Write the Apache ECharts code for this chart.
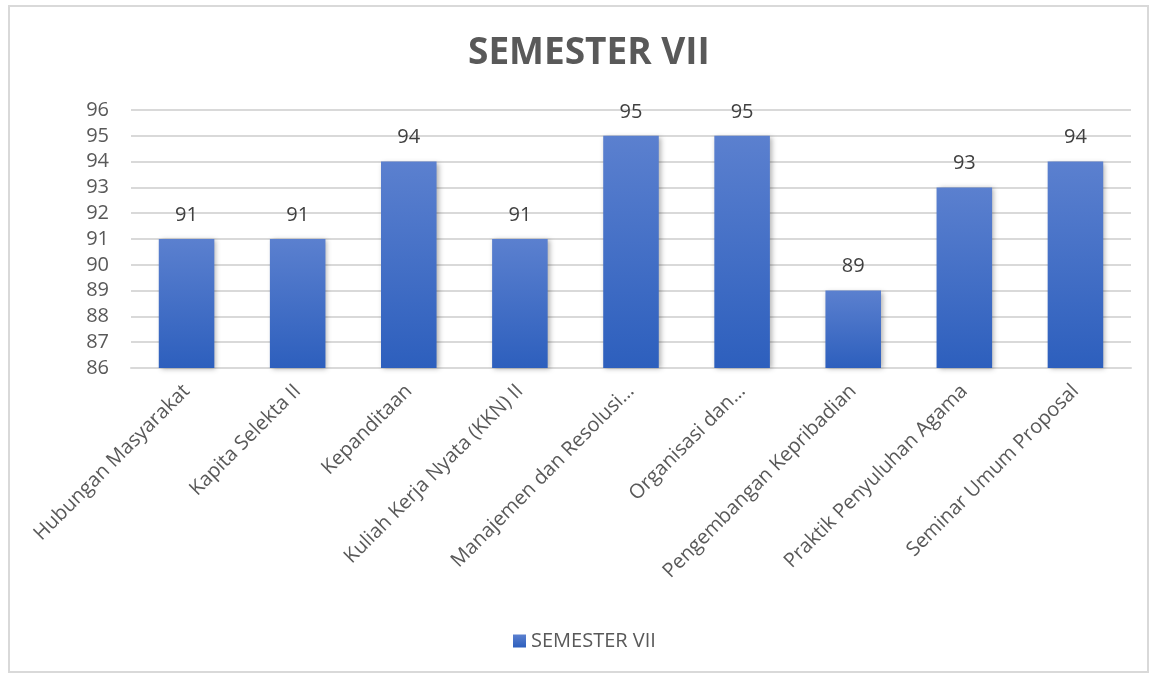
<!DOCTYPE html>
<html>
<head>
<meta charset="utf-8">
<script src="https://cdn.jsdelivr.net/npm/echarts@6/dist/echarts.min.js"></script>
<style>
  html, body { margin: 0; padding: 0; background: #fff; }
  #frame {
    position: absolute; left: 8px; top: 5px; width: 1141px; height: 668px;
    border: 2px solid #d9d9d9; box-sizing: border-box;
  }
  #main { position: absolute; left: 0; top: 0; width: 1158px; height: 674px; }
</style>
</head>
<body>
<div id="frame"></div>
<div id="main"></div>
<script>
// data
const categories = [
  "Hubungan Masyarakat",
  "Kapita Selekta II",
  "Kepanditaan",
  "Kuliah Kerja Nyata (KKN) II",
  "Manajemen dan Resolusi…",
  "Organisasi dan…",
  "Pengembangan Kepribadian",
  "Praktik Penyuluhan Agama",
  "Seminar Umum Proposal"
];
const scores = [91, 91, 94, 91, 95, 95, 89, 93, 94];
const seriesName = "SEMESTER VII";
const yMin = 86, yMax = 96, yStep = 1;

const font = "'Open Sans', 'Liberation Sans', sans-serif";
const grey = "#595959";

const myChart = echarts.init(document.getElementById("main"));
const option = {
  animation: false,
  title: {
    text: "SEMESTER VII",
    left: 463,
    top: 30,
    textStyle: { fontFamily: font, fontSize: 37, fontWeight: "bold", color: grey }
  },
  grid: { left: 131, right: 27, top: 110, height: 258 },
  legend: {
    top: 626,
    left: 508,
    data: [seriesName],
    icon: "rect",
    itemWidth: 13,
    itemHeight: 13,
    itemGap: 7,
    textStyle: { fontFamily: font, fontSize: 20, color: grey }
  },
  xAxis: {
    type: "category",
    data: categories,
    axisTick: { show: false },
    axisLine: { lineStyle: { color: "#d9d9d9", width: 2 } },
    axisLabel: {
      interval: 0,
      rotate: 45,
      margin: 20,
      fontFamily: font,
      fontSize: 20,
      color: grey
    }
  },
  yAxis: {
    type: "value",
    min: yMin,
    max: yMax,
    interval: yStep,
    axisLine: { show: false },
    axisTick: { show: false },
    splitLine: { lineStyle: { color: "#d9d9d9", width: 2 } },
    axisLabel: { margin: 22, fontFamily: font, fontSize: 20, color: grey }
  },
  series: [
    {
      name: seriesName,
      type: "bar",
      data: scores,
      barWidth: "50%",
      itemStyle: {
        color: new echarts.graphic.LinearGradient(0, 0, 0, 1, [
          { offset: 0, color: "#5b80cf" },
          { offset: 1, color: "#2d5fbd" }
        ]),
        shadowColor: "rgba(0,0,0,0.3)",
        shadowBlur: 5,
        shadowOffsetX: 2,
        shadowOffsetY: 1
      },
      label: {
        show: true,
        position: "top",
        distance: 14,
        fontFamily: font,
        fontSize: 20,
        color: "#404040"
      }
    }
  ]
};
myChart.setOption(option);
</script>
</body>
</html>
